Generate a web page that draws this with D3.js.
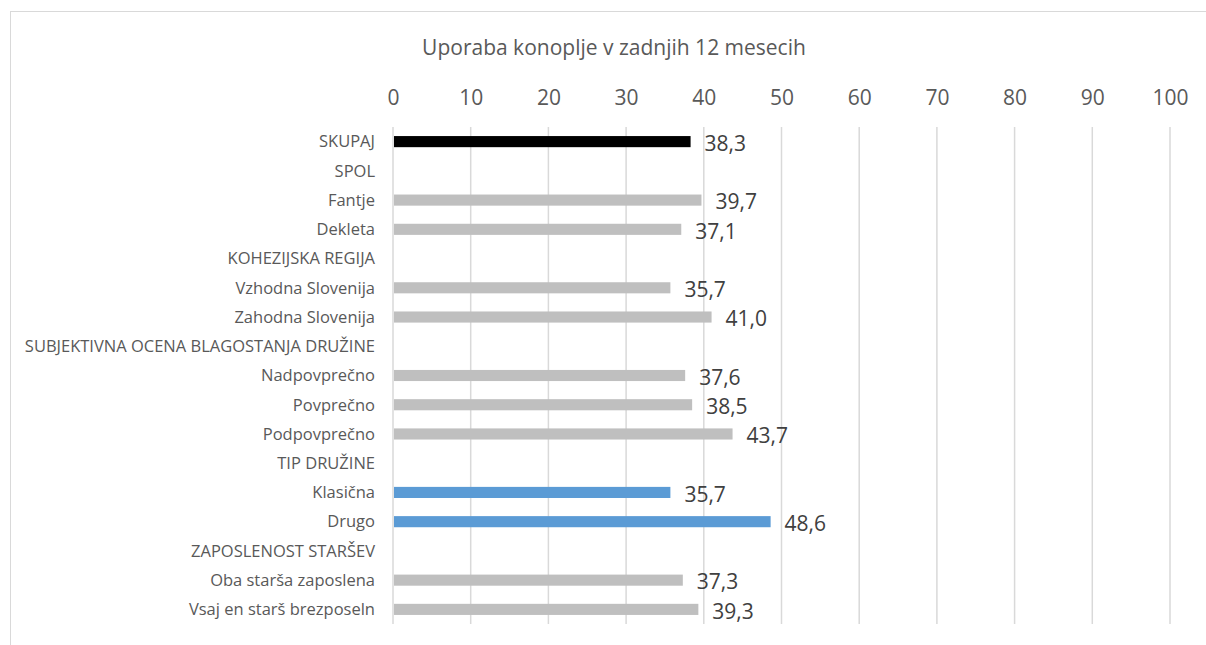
<!DOCTYPE html>
<html>
<head>
<meta charset="utf-8">
<script src="https://cdn.jsdelivr.net/npm/d3@7"></script>
<style>
  html, body { margin: 0; padding: 0; background: #fff; }
  svg { display: block; }
  text { font-family: "Open Sans", "Liberation Sans", sans-serif; }
</style>
</head>
<body>
<svg id="chart" width="1206" height="645"></svg>
<script>
// Rows of the chart, top to bottom (group headers have no value)
const categories = [
  "SKUPAJ", "SPOL", "Fantje", "Dekleta",
  "KOHEZIJSKA REGIJA", "Vzhodna Slovenija", "Zahodna Slovenija",
  "SUBJEKTIVNA OCENA BLAGOSTANJA DRUŽINE", "Nadpovprečno", "Povprečno", "Podpovprečno",
  "TIP DRUŽINE", "Klasična", "Drugo",
  "ZAPOSLENOST STARŠEV", "Oba starša zaposlena", "Vsaj en starš brezposeln"
];
const values = [
  38.3, null, 39.7, 37.1,
  null, 35.7, 41.0,
  null, 37.6, 38.5, 43.7,
  null, 35.7, 48.6,
  null, 37.3, 39.3
];
// Colour group of each row: total, normal, highlighted
const groups = [
  "total", null, "base", "base",
  null, "base", "base",
  null, "base", "base", "base",
  null, "accent", "accent",
  null, "base", "base"
];
const tickValues = [0, 10, 20, 30, 40, 50, 60, 70, 80, 90, 100];
const title = "Uporaba konoplje v zadnjih 12 mesecih";

const colors = { total: "#000000", base: "#bfbfbf", accent: "#5b9bd5" };

const svg = d3.select("#chart");

// Outer frame
svg.append("rect")
  .attr("x", 10.5).attr("y", 11.5)
  .attr("width", 1200).attr("height", 650)
  .attr("fill", "none").attr("stroke", "#d9d9d9").attr("stroke-width", 1);

const plot = { left: 393, right: 1170, top: 127, bottom: 624 };

const x = d3.scaleLinear().domain([0, 100]).range([plot.left, plot.right]);
const y = d3.scaleBand().domain(d3.range(categories.length))
  .range([plot.top, plot.bottom]).paddingInner(0.62).paddingOuter(0.31);

// Title
svg.append("text")
  .attr("x", 614).attr("y", 55)
  .attr("text-anchor", "middle")
  .attr("font-size", 21)
  .attr("fill", "#595959")
  .text(title);

// Vertical gridlines
svg.append("g").selectAll("line")
  .data(tickValues).join("line")
  .attr("x1", d => x(d)).attr("x2", d => x(d))
  .attr("y1", plot.top).attr("y2", plot.bottom)
  .attr("stroke", "#d9d9d9").attr("stroke-width", 1.5);

// Top axis tick labels
const axis = d3.axisTop(x).tickValues(tickValues).tickSize(0).tickPadding(0)
  .tickFormat(d3.format("d"));
const axisG = svg.append("g")
  .attr("transform", `translate(0, 105)`)
  .call(axis);
axisG.select(".domain").remove();
axisG.selectAll("text")
  .attr("font-size", 21)
  .attr("fill", "#595959")
  .attr("font-family", "\"Open Sans\", \"Liberation Sans\", sans-serif");

// Category labels
const catG = svg.append("g");
catG.selectAll("text")
  .data(categories).join("text")
  .attr("x", 375)
  .attr("y", (d, i) => y(i) + y.bandwidth() / 2)
  .attr("dy", "0.35em")
  .attr("text-anchor", "end")
  .attr("font-size", 16.5)
  .attr("fill", "#595959")
  .text(d => d);

const rows = values.map((v, i) => ({ i, v, g: groups[i] })).filter(d => d.v != null);

// Bars
svg.append("g").selectAll("rect")
  .data(rows).join("rect")
  .attr("x", x(0) + 1)
  .attr("y", d => y(d.i))
  .attr("width", d => x(d.v) - x(0) - 1)
  .attr("height", y.bandwidth())
  .attr("fill", d => colors[d.g]);

// Value labels
const fmt = v => v.toFixed(1).replace(".", ",");
svg.append("g").selectAll("text")
  .data(rows).join("text")
  .attr("x", d => x(d.v) + 14)
  .attr("y", d => y(d.i) + y.bandwidth() / 2 + 2)
  .attr("dy", "0.35em")
  .attr("font-size", 21)
  .attr("fill", "#404040")
  .text(d => fmt(d.v));
</script>
</body>
</html>
